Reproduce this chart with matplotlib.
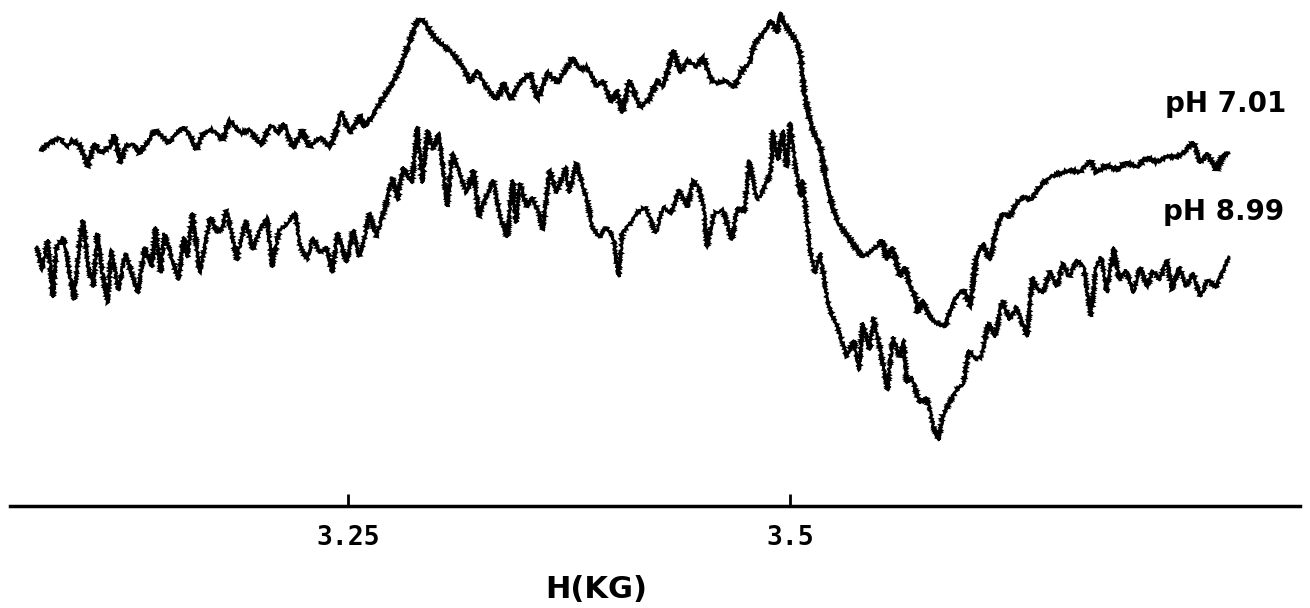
import numpy as np
import matplotlib
matplotlib.use("Agg")
import matplotlib.pyplot as plt

# EPR spectra, field in kG, signal in arbitrary units
field_701 = [3.076, 3.081, 3.087, 3.091, 3.094, 3.098, 3.103, 3.106, 3.110, 3.115,
             3.118, 3.121, 3.124, 3.128, 3.132, 3.136, 3.141, 3.145, 3.149, 3.153,
             3.157, 3.161, 3.164, 3.168, 3.173, 3.179, 3.183, 3.189, 3.194, 3.201,
             3.206, 3.211, 3.213, 3.219, 3.224, 3.228, 3.234, 3.240, 3.244, 3.246,
             3.251, 3.257, 3.259, 3.264, 3.270, 3.274, 3.278, 3.281, 3.285, 3.288,
             3.291, 3.293, 3.296, 3.299, 3.302, 3.309, 3.315, 3.319, 3.323, 3.328,
             3.334, 3.338, 3.342, 3.347, 3.353, 3.357, 3.363, 3.368, 3.374, 3.377,
             3.381, 3.385, 3.391, 3.394, 3.399, 3.402, 3.405, 3.409, 3.415, 3.420,
             3.425, 3.428, 3.434, 3.438, 3.442, 3.447, 3.451, 3.455, 3.459, 3.464,
             3.468, 3.473, 3.477, 3.480, 3.485, 3.489, 3.493, 3.494, 3.498, 3.504,
             3.506, 3.508, 3.512, 3.517, 3.521, 3.524, 3.527, 3.530, 3.534, 3.538,
             3.541, 3.547, 3.552, 3.555, 3.558, 3.562, 3.565, 3.568, 3.571, 3.572,
             3.575, 3.579, 3.583, 3.588, 3.590, 3.594, 3.598, 3.602, 3.605, 3.609,
             3.613, 3.617, 3.620, 3.624, 3.628, 3.632, 3.636, 3.641, 3.647, 3.653,
             3.658, 3.664, 3.670, 3.673, 3.679, 3.685, 3.690, 3.696, 3.702, 3.707,
             3.713, 3.719, 3.724, 3.728, 3.732, 3.736, 3.741, 3.745, 3.748]
signal_701 = [367, 374, 379, 370, 377, 372, 350, 374, 364, 370,
              382, 354, 370, 374, 364, 374, 387, 380, 374, 384,
              390, 380, 367, 384, 387, 377, 397, 384, 387, 372,
              392, 384, 394, 369, 387, 370, 380, 370, 390, 405,
              384, 402, 389, 402, 420, 430, 444, 457, 477, 492,
              499, 495, 487, 479, 474, 464, 450, 434, 447, 430,
              417, 434, 417, 434, 444, 417, 445, 434, 450, 460,
              447, 450, 430, 437, 414, 427, 404, 437, 410, 417,
              437, 430, 467, 444, 457, 450, 460, 437, 434, 437,
              429, 447, 454, 474, 484, 497, 484, 504, 490, 474,
              460, 424, 390, 370, 330, 310, 295, 287, 277, 267,
              260, 267, 277, 257, 270, 240, 250, 230, 220, 204,
              217, 200, 194, 190, 204, 220, 227, 210, 257, 274,
              257, 290, 304, 300, 314, 320, 317, 330, 340, 344,
              347, 345, 357, 344, 352, 347, 355, 350, 360, 355,
              360, 360, 367, 375, 354, 364, 347, 362, 364]

field_899 = [3.074, 3.077, 3.080, 3.083, 3.085, 3.089, 3.091, 3.095, 3.098, 3.100,
             3.103, 3.106, 3.108, 3.111, 3.114, 3.116, 3.120, 3.124, 3.127, 3.131,
             3.135, 3.139, 3.141, 3.144, 3.146, 3.150, 3.154, 3.157, 3.159, 3.162,
             3.166, 3.172, 3.176, 3.179, 3.181, 3.185, 3.187, 3.192, 3.196, 3.200,
             3.204, 3.207, 3.211, 3.216, 3.220, 3.223, 3.227, 3.230, 3.234, 3.238,
             3.241, 3.244, 3.249, 3.253, 3.256, 3.259, 3.262, 3.266, 3.271, 3.275,
             3.278, 3.281, 3.286, 3.289, 3.292, 3.295, 3.298, 3.301, 3.304, 3.306,
             3.309, 3.313, 3.317, 3.321, 3.324, 3.328, 3.332, 3.336, 3.340, 3.343,
             3.345, 3.347, 3.351, 3.354, 3.358, 3.360, 3.364, 3.368, 3.373, 3.375,
             3.379, 3.383, 3.386, 3.388, 3.392, 3.396, 3.400, 3.403, 3.405, 3.409,
             3.413, 3.418, 3.424, 3.428, 3.433, 3.437, 3.442, 3.445, 3.448, 3.451,
             3.453, 3.457, 3.462, 3.467, 3.470, 3.474, 3.477, 3.481, 3.484, 3.489,
             3.490, 3.493, 3.496, 3.498, 3.500, 3.503, 3.506, 3.507, 3.511, 3.514,
             3.517, 3.521, 3.524, 3.526, 3.532, 3.536, 3.539, 3.541, 3.545, 3.547,
             3.551, 3.555, 3.558, 3.562, 3.564, 3.566, 3.569, 3.573, 3.577, 3.581,
             3.584, 3.586, 3.590, 3.594, 3.598, 3.601, 3.605, 3.608, 3.612, 3.616,
             3.620, 3.624, 3.628, 3.634, 3.637, 3.640, 3.643, 3.647, 3.651, 3.654,
             3.658, 3.662, 3.666, 3.670, 3.673, 3.676, 3.679, 3.683, 3.686, 3.690,
             3.694, 3.698, 3.702, 3.705, 3.709, 3.713, 3.716, 3.720, 3.724, 3.728,
             3.732, 3.736, 3.741, 3.745, 3.748]
signal_899 = [270, 247, 277, 220, 270, 280, 260, 217, 274, 297,
              250, 230, 284, 244, 214, 267, 227, 264, 247, 224,
              270, 250, 290, 244, 284, 260, 237, 280, 260, 304,
              244, 300, 284, 290, 307, 277, 257, 297, 267, 287,
              300, 250, 287, 294, 304, 270, 257, 280, 264, 270,
              244, 284, 254, 287, 260, 277, 304, 280, 310, 340,
              317, 350, 334, 390, 334, 387, 367, 384, 344, 310,
              364, 344, 324, 347, 300, 320, 337, 300, 280, 337,
              294, 334, 310, 320, 304, 287, 347, 324, 350, 324,
              354, 330, 310, 290, 280, 290, 280, 240, 284, 292,
              304, 310, 284, 310, 304, 327, 310, 337, 330, 310,
              270, 304, 307, 277, 310, 304, 357, 317, 324, 344,
              387, 357, 387, 350, 394, 350, 320, 337, 270, 244,
              264, 217, 200, 194, 160, 177, 147, 194, 167, 200,
              167, 127, 180, 160, 177, 134, 140, 114, 120, 90,
              77, 100, 114, 127, 134, 167, 157, 160, 194, 180,
              217, 197, 210, 180, 240, 227, 224, 247, 230, 254,
              240, 257, 250, 200, 250, 260, 224, 270, 237, 247,
              224, 250, 230, 247, 237, 257, 227, 250, 230, 244,
              220, 237, 230, 247, 260]

ticks = [3.25, 3.5]
tick_labels = ["3.25", "3.5"]

fig = plt.figure(figsize=(13.1, 6.08), dpi=100)
ax = fig.add_axes([0.0076, 102 / 608, 0.9847, 506 / 608])

top, = ax.plot(field_701, signal_701, color="black", lw=2.3, solid_joinstyle="miter")
bot, = ax.plot(field_899, signal_899, color="black", lw=2.0, solid_joinstyle="miter")
# scanned chart-recorder trace looks a bit fuzzy
top.set_sketch_params(scale=1.2, length=2, randomness=2)
bot.set_sketch_params(scale=1.2, length=2, randomness=2)

ax.set_xlim(3.0587, 3.7883)
ax.set_ylim(11, 517)

for side in ("top", "left", "right"):
    ax.spines[side].set_visible(False)
ax.spines["bottom"].set_linewidth(2.5)
ax.set_yticks([])
ax.set_xticks(ticks)
ax.set_xticklabels(tick_labels, family="DejaVu Sans Mono", fontsize=19, weight="bold")
ax.tick_params(axis="x", direction="in", length=9, width=2, pad=14)

fig.text(596 / 1310, 1 - 598 / 608, "H(KG)", fontsize=22, weight="bold",
         ha="center", va="baseline")
fig.text(1165 / 1310, 1 - 112 / 608, "pH 7.01", fontsize=20, weight="bold", va="baseline")
fig.text(1163 / 1310, 1 - 220 / 608, "pH 8.99", fontsize=20, weight="bold", va="baseline")

fig.savefig("out.png", dpi=100)
